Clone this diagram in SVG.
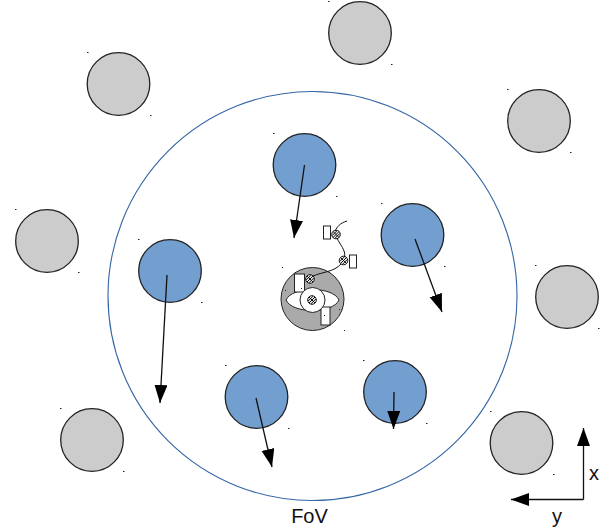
<svg xmlns="http://www.w3.org/2000/svg" width="610" height="529" viewBox="0 0 610 529">
<style>
.g{fill:#cccccc;stroke:#222;stroke-width:1.3}
.b{fill:#729fcf;stroke:#222;stroke-width:1.3}
.d{fill:#222;stroke:none}
.a{stroke:#111;stroke-width:1.3;fill:none;marker-end:url(#ah)}
.w{fill:#fff;stroke:#222;stroke-width:1}
.t{font-family:"Liberation Sans",Arial,sans-serif;font-size:20px;fill:#111}
.s{fill:#eee;stroke:#111;stroke-width:1}
.h{stroke:#111;stroke-width:1;fill:none}
</style>
<defs>
<marker id="ah" markerUnits="userSpaceOnUse" markerWidth="20" markerHeight="14" refX="18" refY="6.500" orient="auto"><path d="M0 0L18 6.500L0 13Z" fill="#000"/></marker>
<g id="sc"><circle class="s" r="4.300"/><path class="h" d="M-3 -3L3 3M-3 3L3 -3M-1 3.800L3.800 -1M-3.800 1L1 -3.800"/></g>
</defs>
<rect width="610" height="529" fill="#fff"/>
<g id="fov"><circle cx="312.500" cy="296" r="204.500" fill="#fff" stroke="#3465a4" stroke-width="1.100"/><text class="t" x="309.500" y="523" text-anchor="middle">FoV</text></g>
<g id="gray1"><circle class="g" cx="118.500" cy="84" r="31.300"/><rect class="d" x="87" y="52" width="1.500" height="1"/><rect class="d" x="150" y="115" width="1.500" height="1"/></g>
<g id="gray2"><circle class="g" cx="360" cy="33" r="31.300"/><rect class="d" x="328" y="1" width="1.500" height="1"/><rect class="d" x="391" y="64" width="1.500" height="1"/></g>
<g id="gray3"><circle class="g" cx="539" cy="121" r="31.300"/><rect class="d" x="507" y="89" width="1.500" height="1"/><rect class="d" x="570" y="152" width="1.500" height="1"/></g>
<g id="gray4"><circle class="g" cx="47" cy="241" r="31.300"/><rect class="d" x="15" y="209" width="1.500" height="1"/><rect class="d" x="78" y="272" width="1.500" height="1"/></g>
<g id="gray5"><circle class="g" cx="567" cy="297" r="31.300"/><rect class="d" x="535" y="265" width="1.500" height="1"/><rect class="d" x="598" y="328" width="1.500" height="1"/></g>
<g id="gray6"><circle class="g" cx="92" cy="440" r="31.300"/><rect class="d" x="60" y="408" width="1.500" height="1"/><rect class="d" x="123" y="471" width="1.500" height="1"/></g>
<g id="gray7"><circle class="g" cx="521.500" cy="443" r="31.300"/><rect class="d" x="490" y="411" width="1.500" height="1"/><rect class="d" x="553" y="474" width="1.500" height="1"/></g>
<g id="blue1"><circle class="b" cx="304.500" cy="165" r="31.300"/><rect class="d" x="273" y="133" width="1.500" height="1"/><rect class="d" x="336" y="196" width="1.500" height="1"/></g>
<g id="blue2"><circle class="b" cx="412.500" cy="235" r="31.300"/><rect class="d" x="381" y="203" width="1.500" height="1"/><rect class="d" x="444" y="266" width="1.500" height="1"/></g>
<g id="blue3"><circle class="b" cx="170" cy="271" r="31.300"/><rect class="d" x="138" y="239" width="1.500" height="1"/><rect class="d" x="201" y="302" width="1.500" height="1"/></g>
<g id="blue4"><circle class="b" cx="256.500" cy="397" r="31.300"/><rect class="d" x="225" y="365" width="1.500" height="1"/><rect class="d" x="288" y="428" width="1.500" height="1"/></g>
<g id="blue5"><circle class="b" cx="395" cy="392" r="31.300"/><rect class="d" x="363" y="360" width="1.500" height="1"/><rect class="d" x="426" y="423" width="1.500" height="1"/></g>
<g id="spacecraft">
<circle cx="312.500" cy="299" r="31.500" fill="#aaa" stroke="#222" stroke-width="1"/>
<path class="w" d="M286 300C292 286 333 286 339 300C333 314 292 314 286 300Z"/>
<rect class="w" x="294.500" y="274" width="10" height="18"/>
<rect class="w" x="321" y="307" width="9" height="18"/>
<circle class="w" cx="312.500" cy="300" r="12.500"/>
<use href="#sc" x="312" y="300"/>
<use href="#sc" x="310" y="279"/>
<rect class="d" x="301" y="288" width="1" height="1"/>
<rect class="d" x="324" y="315" width="1" height="1"/>
<rect class="d" x="285" y="290" width="1" height="1"/>
<rect class="d" x="339" y="309" width="1" height="1"/>
</g>
<g id="sensors">
<rect class="w" x="323.500" y="226" width="7" height="13"/>
<rect class="w" x="349.500" y="255" width="7" height="13"/>
<use href="#sc" x="336" y="234.500"/>
<use href="#sc" x="343.500" y="260.500"/>
<path class="h" d="M347 221C340 223 337 227 335 231M337 238C340 245 346 250 344.500 257M341 264C334 272 322 272 313 276"/>
<rect class="d" x="282" y="267" width="1" height="1"/>
<rect class="d" x="344" y="330" width="1" height="1"/>
</g>
<g id="connectors">
<path class="a" d="M304.500 165L294 238"/>
<path class="a" d="M415 239L442 312"/>
<path class="a" d="M167 275L160 403"/>
<path class="a" d="M256 398L272 467"/>
<path class="a" d="M394 392L393.500 429"/>
<path class="a" d="M583.500 499.500V428"/>
<path class="a" d="M583.500 499.500H511"/>
</g>
<text class="t" x="594" y="480" text-anchor="middle">x</text>
<text class="t" x="557" y="523" text-anchor="middle">y</text>
</svg>
